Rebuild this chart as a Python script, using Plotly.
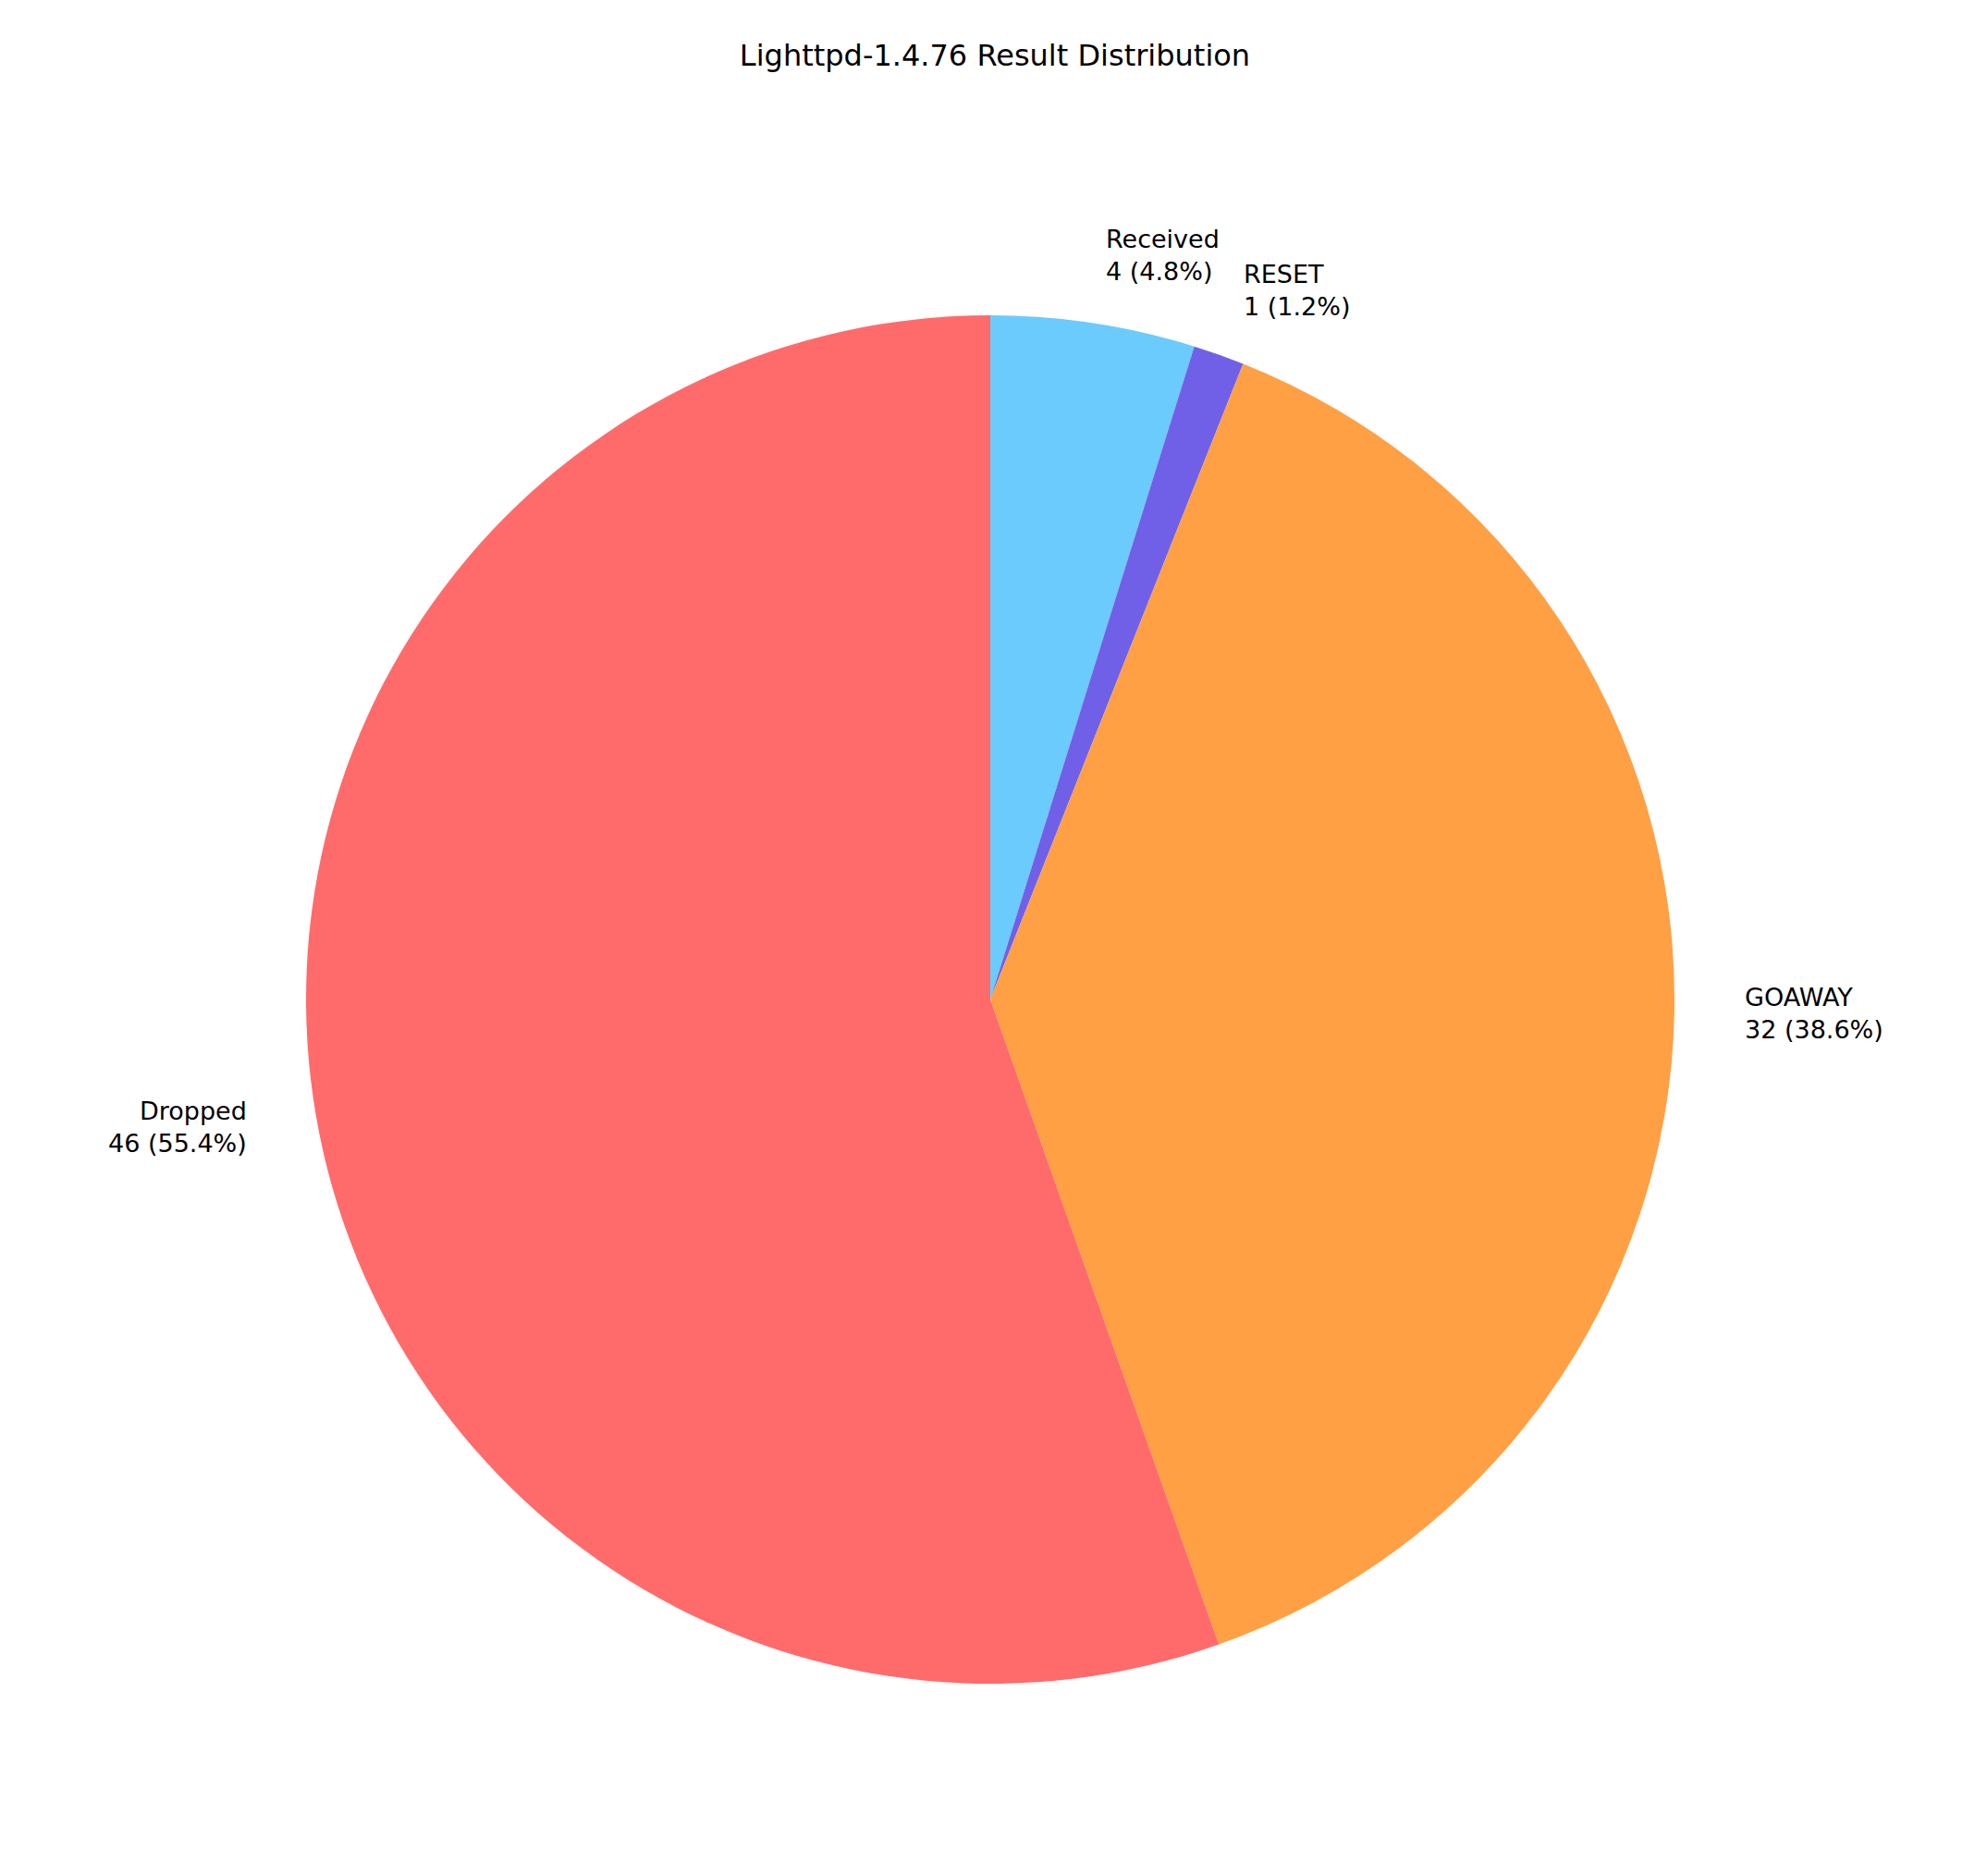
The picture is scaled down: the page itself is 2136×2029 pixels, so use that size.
import math
import plotly.graph_objects as go

labels = ["Received", "RESET", "GOAWAY", "Dropped"]
counts = [4, 1, 32, 46]
colors = ["#6ccbfd", "#7060e8", "#ffa044", "#ff6b6b"]

W, H = 2136, 2029
cx, cy, r = 1063, 956, 740  # pixels, y measured from bottom

fig = go.Figure(go.Pie(
    labels=labels, values=counts, sort=False, direction="clockwise", rotation=0,
    marker=dict(colors=colors, line=dict(width=0)),
    textinfo="none", hoverinfo="label+value+percent", showlegend=False,
    domain=dict(x=[(cx - r) / W, (cx + r) / W], y=[(cy - r) / H, (cy + r) / H]),
))

total = sum(counts)
cum = 0
for lab, c in zip(labels, counts):
    mid = (cum + c / 2) / total
    cum += c
    th = math.radians(90 - mid * 360)
    x = cx + 1.1 * r * math.cos(th)
    y = cy + 1.1 * r * math.sin(th)
    fig.add_annotation(
        x=x / W, y=y / H, xref="paper", yref="paper", showarrow=False,
        text=f"{lab}<br>{c} ({c / total * 100:.1f}%)",
        xanchor="left" if x > cx else "right", yanchor="middle", align="left" if x > cx else "right",
        font=dict(size=27, color="black"),
    )

fig.update_layout(
    width=W, height=H, margin=dict(l=0, r=0, t=0, b=0),
    paper_bgcolor="white", plot_bgcolor="white",
    font=dict(family="DejaVu Sans"),
    title=dict(text="Lighttpd-1.4.76 Result Distribution", x=0.5, xanchor="center",
               y=1 - 52 / H, yanchor="middle", font=dict(size=32, color="black")),
)
fig.write_html("out.html")
